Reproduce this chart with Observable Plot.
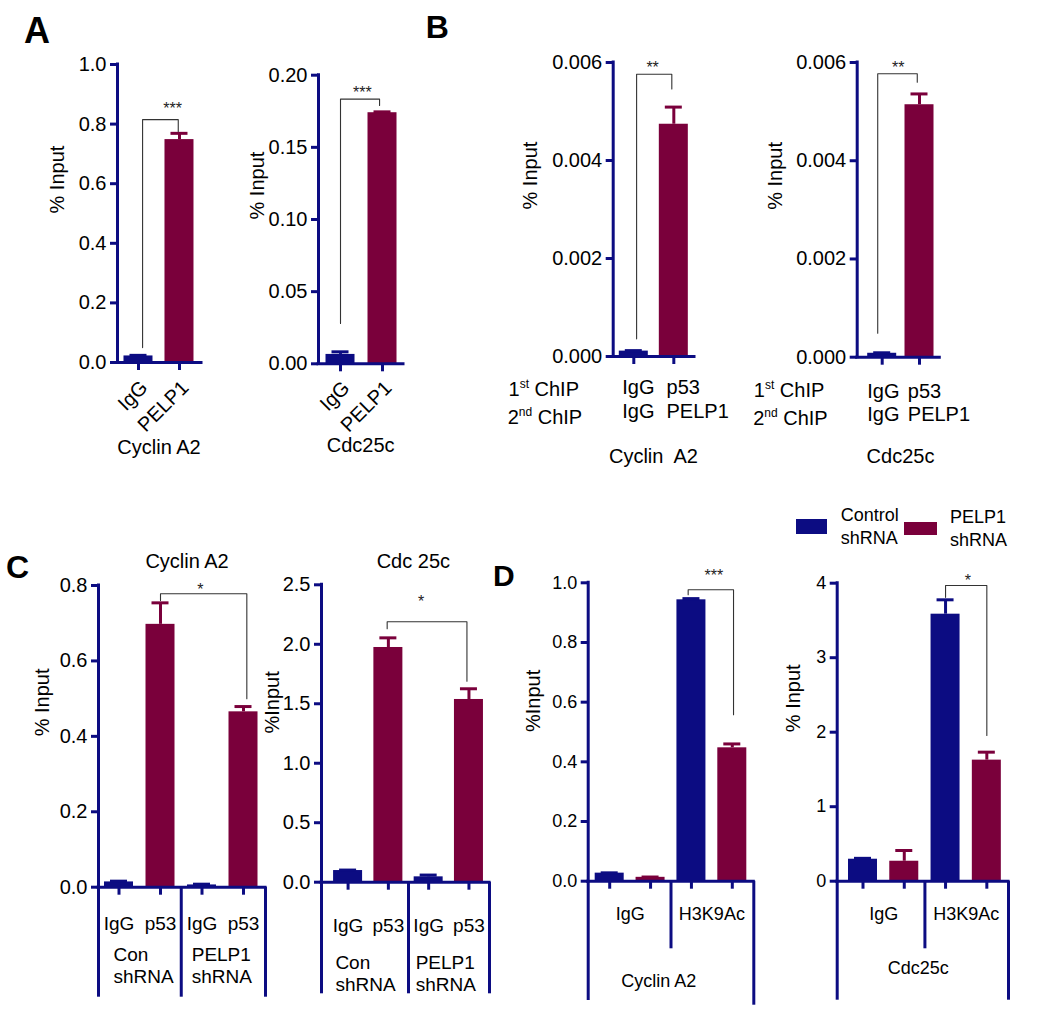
<!DOCTYPE html>
<html><head><meta charset="utf-8">
<script src="https://cdn.jsdelivr.net/npm/d3@7"></script>
<script src="https://cdn.jsdelivr.net/npm/@observablehq/plot@0.6"></script>
<style>
body{margin:0;background:#fff;}
#fig{position:relative;width:1050px;height:1018px;overflow:hidden;font-family:"Liberation Sans",Arial,sans-serif;background:#fff;}
#fig svg{position:absolute;left:0;top:0;}
.letter{position:absolute;font-weight:bold;line-height:1;color:#000;}
.sw{position:absolute;}
.lg{position:absolute;font-size:18px;line-height:23px;color:#000;}
</style></head><body><div id="fig"></div>
<script>
// ---------- data ----------
const genes = ["Cyclin A2", "Cdc25c"];
// Panel A: ChIP % input
const aAntibodies = ["IgG", "PELP1"];
const aCyclinA2 = [0.022, 0.748];
const aCyclinA2Sem = [0.002, 0.021];
const aCdc25c = [0.0065, 0.174];
const aCdc25cSem = [0.0018, 0.0006];
// Panel B: ChIP-reChIP
const bFirstChIP = ["IgG", "p53"];
const bSecondChIP = ["IgG", "PELP1"];
const bCyclinA2 = [0.00011, 0.00474];
const bCyclinA2Sem = [0.00001, 0.00035];
const bCdc25c = [0.00008, 0.00514];
const bCdc25cSem = [0.00001, 0.00022];
// Panel C: p53 ChIP in control vs PELP1 shRNA
const cAntibodies = ["IgG", "p53", "IgG", "p53"];
const cGroups = ["Con\nshRNA", "PELP1\nshRNA"];
const cCyclinA2 = [0.014, 0.697, 0.006, 0.465];
const cCyclinA2Sem = [0.002, 0.057, 0.002, 0.014];
const cCdc25c = [0.098, 1.973, 0.045, 1.536];
const cCdc25cSem = [0.004, 0.081, 0.015, 0.09];
// Panel D: H3K9Ac ChIP
const dAntibodies = ["IgG", "H3K9Ac"];
const dSeries = ["Control\nshRNA", "PELP1\nshRNA"];
const dCyclinA2 = [0.027, 0.013, 0.943, 0.447];
const dCyclinA2Sem = [0.001, 0.001, 0.004, 0.013];
const dCdc25c = [0.295, 0.268, 3.584, 1.625];
const dCdc25cSem = [0.012, 0.144, 0.193, 0.107];
// significance annotations (data units)
const aCyclinA2Sig = {from: 0.1, to: 0.97, y: 0.815, yFrom: 0.05, yTo: 0.775, label: "***", labelX: 0.83, labelY: 0.866};
const aCdc25cSig = {from: 0, to: 0.93, y: 0.1834, yFrom: 0.028, yTo: 0.179, label: "***", labelX: 0.52, labelY: 0.1906};
const bCyclinA2Sig = {from: 0.07, to: 0.95, y: 0.00576, yFrom: 0.00036, yTo: 0.00546, label: "**", labelX: 0.47, labelY: 0.00598};
const bCdc25cSig = {from: -0.12, to: 0.94, y: 0.00577, yFrom: 0.00049, yTo: 0.0056, label: "**", labelX: 0.43, labelY: 0.00598};
const cCyclinA2Sig = {from: 1, to: 3.08, y: 0.778, yFrom: 0.76, yTo: 0.50, label: "*", labelX: 1.96, labelY: 0.80};
const cCdc25cSig = {from: 0.97, to: 2.95, y: 2.19, yFrom: 2.13, yTo: 1.69, label: "*", labelX: 1.81, labelY: 2.39};
const dCyclinA2Sig = {from: 1.92, to: 3.03, y: 0.9766, yFrom: 0.96, yTo: 0.558, label: "***", labelX: 2.55, labelY: 1.035};
const dCdc25cSig = {from: 2.0, to: 3.0, y: 3.97, yFrom: 3.81, yTo: 1.956, label: "*", labelX: 2.54, labelY: 4.08};

// ---------- styling ----------
const NAVY = "#0c0c82", MAROON = "#7a003b";
const FONT = "'Liberation Sans', Arial, sans-serif";
const f0 = d3.format("d"), f1 = d3.format(".1f"), f2 = d3.format(".2f"), f3 = d3.format(".3f");
const fig = document.getElementById("fig");

function panel(p) {
  const [x0, x1] = p.xDomain;
  const step = (p.axisEnd - p.axisX) / (x1 - x0);
  const hw = 14.5 / step, cap = 8.5 / step;
  const u = p.yMax / (p.yZero - p.yTop);
  const below = px => -px * u;
  const fs = p.fontSize;
  const rows = p.values.map((v, i) => ({i, v, e: p.sems[i], c: p.colors[i]}));
  const s = p.sig;
  const bracket = [[s.from, s.yFrom], [s.from, s.y], [s.to, s.y], [s.to, s.yTo]];
  const marks = [
    Plot.rect(rows, {x1: d => d.i - hw, x2: d => d.i + hw, y1: () => 0, y2: d => d.v, fill: d => d.c}),
    Plot.ruleX(rows, {x: "i", y1: "v", y2: d => d.v + d.e, stroke: d => d.c, strokeWidth: 3}),
    Plot.ruleY(rows, {y: d => d.v + d.e, x1: d => d.i - cap, x2: d => d.i + cap, stroke: d => d.c, strokeWidth: 3}),
    Plot.line(bracket, {x: d => d[0], y: d => d[1], stroke: "#333", strokeWidth: 1.1}),
    Plot.text([s], {x: d => d.labelX, y: d => d.labelY, text: d => d.label, fontSize: 16, dy: 4, fill: "#222"}),
    Plot.ruleY([0], {stroke: NAVY, strokeWidth: 3, strokeLinecap: "square"}),
    Plot.ruleX([x0], {y1: () => 0, y2: () => p.yMax, stroke: NAVY, strokeWidth: 3, strokeLinecap: "square"}),
    Plot.ruleX(rows, {x: "i", y1: () => 0, y2: () => below(8), stroke: NAVY, strokeWidth: 3}),
    Plot.axisY({ticks: p.yTicks, tickFormat: p.fmt, tickSize: 7, tickPadding: 4, stroke: NAVY, strokeWidth: 3, fill: "black", fontSize: fs, label: null}),
    Plot.text([p.yLabel], {frameAnchor: "left", text: d => d, rotate: -90, dx: -p.yLabelOffset, fontSize: 20, fill: "black"})
  ];
  if (p.groupLines) marks.push(Plot.ruleX(p.groupLines, {x: d => d.x, y1: () => 0, y2: d => below(d.depth), stroke: NAVY, strokeWidth: 3}));
  for (const t of p.texts) {
    marks.push(Plot.text([t], {
      x: d => d.x, y: d => d.y ?? 0, text: d => d.text,
      dx: t.dx || 0, dy: t.dy || 0, textAnchor: t.anchor || "middle",
      rotate: t.rotate || 0, fontSize: t.fs || fs, lineHeight: t.lh || 1.18, fill: "black"
    }));
  }
  const svg = Plot.plot({
    width: 1050, height: 1018,
    marginLeft: p.axisX, marginRight: 1050 - p.axisEnd, marginTop: p.yTop, marginBottom: 1018 - p.yZero,
    x: {type: "linear", domain: p.xDomain, axis: null},
    y: {type: "linear", domain: [0, p.yMax]},
    color: {type: "identity"},
    style: {fontFamily: FONT, fontSize: fs + "px", color: "black", background: "transparent", overflow: "visible"},
    marks
  });
  // superscripts for "1st ChIP" / "2nd ChIP"
  svg.querySelectorAll("text").forEach(el => {
    const m = /^(\d)(st|nd) (ChIP)$/.exec(el.textContent);
    if (!m) return;
    el.textContent = "";
    const NS = "http://www.w3.org/2000/svg";
    el.appendChild(document.createTextNode(m[1]));
    const sup = document.createElementNS(NS, "tspan");
    sup.setAttribute("font-size", "12"); sup.setAttribute("dy", "-8"); sup.textContent = m[2];
    const rest = document.createElementNS(NS, "tspan");
    rest.setAttribute("dy", "8"); rest.textContent = " " + m[3];
    el.appendChild(sup); el.appendChild(rest);
  });
  fig.appendChild(svg);
}

const blueRed = [NAVY, MAROON];
const cColors = [NAVY, MAROON, NAVY, MAROON];

// ---- Panel A ----
panel({axisX: 117, axisEnd: 201, yTop: 64, yZero: 362, xDomain: [-0.512, 1.537], yMax: 1.0,
  yTicks: [0, 0.2, 0.4, 0.6, 0.8, 1.0], fmt: f1, fontSize: 20,
  values: aCyclinA2, sems: aCyclinA2Sem, colors: blueRed, sig: aCyclinA2Sig,
  yLabel: "% Input", yLabelOffset: 60,
  texts: [...aAntibodies.map((t, i) => ({x: i, text: t, dx: 5, dy: 21, anchor: "end", rotate: -45})),
          {x: 0.5, text: genes[0], dy: 84}]});
panel({axisX: 318, axisEnd: 403, yTop: 74.7, yZero: 363.3, xDomain: [-0.524, 1.5], yMax: 0.2,
  yTicks: [0, 0.05, 0.10, 0.15, 0.20], fmt: f2, fontSize: 20,
  values: aCdc25c, sems: aCdc25cSem, colors: blueRed, sig: aCdc25cSig,
  yLabel: "% Input", yLabelOffset: 61,
  texts: [...aAntibodies.map((t, i) => ({x: i, text: t, dx: 5, dy: 20, anchor: "end", rotate: -45})),
          {x: 0.48, text: genes[1], dy: 81}]});

// ---- Panel B ----
panel({axisX: 612.7, axisEnd: 694, yTop: 62, yZero: 356, xDomain: [-0.515, 1.517], yMax: 0.006,
  yTicks: [0, 0.002, 0.004, 0.006], fmt: f3, fontSize: 20,
  values: bCyclinA2, sems: bCyclinA2Sem, colors: blueRed, sig: bCyclinA2Sig,
  yLabel: "% Input", yLabelOffset: 82.7,
  texts: [{x: -0.515, text: "1st ChIP", dx: -104.7, dy: 32, anchor: "start"},
          {x: -0.515, text: "2nd ChIP", dx: -105.5, dy: 60, anchor: "start"},
          ...bFirstChIP.map((t, i) => ({x: i, text: t, dx: [-11.6, -7.3][i], dy: 30, anchor: "start"})),
          ...bSecondChIP.map((t, i) => ({x: i, text: t, dx: [-11.6, -7.3][i], dy: 54, anchor: "start"})),
          {x: 0.49, text: "Cyclin  A2", dy: 99}]});
panel({axisX: 856.7, axisEnd: 939.3, yTop: 62, yZero: 356.7, xDomain: [-0.67, 1.544], yMax: 0.006,
  yTicks: [0, 0.002, 0.004, 0.006], fmt: f3, fontSize: 20,
  values: bCdc25c, sems: bCdc25cSem, colors: blueRed, sig: bCdc25cSig,
  yLabel: "% Input", yLabelOffset: 81.7,
  texts: [{x: -0.67, text: "1st ChIP", dx: -103.4, dy: 32.5, anchor: "start"},
          {x: -0.67, text: "2nd ChIP", dx: -104, dy: 60, anchor: "start"},
          ...bFirstChIP.map((t, i) => ({x: i, text: t, dx: [-15, -11.7][i], dy: 33, anchor: "start"})),
          ...bSecondChIP.map((t, i) => ({x: i, text: t, dx: [-15, -11.7][i], dy: 56.5, anchor: "start"})),
          {x: 0.49, text: genes[1], dy: 98.5}]});

// ---- Panel C ----
panel({axisX: 98, axisEnd: 265, yTop: 585, yZero: 886.7, xDomain: [-0.494, 3.53], yMax: 0.8,
  yTicks: [0, 0.2, 0.4, 0.6, 0.8], fmt: f1, fontSize: 20,
  values: cCyclinA2, sems: cCyclinA2Sem, colors: cColors, sig: cCyclinA2Sig,
  yLabel: "% Input", yLabelOffset: 56.3,
  groupLines: [{x: -0.494, depth: 110}, {x: 1.5, depth: 110}, {x: 3.53, depth: 110}],
  texts: [{x: 1.64, y: 0.8, text: genes[0], dy: -25},
          ...cAntibodies.map((t, i) => ({x: i, text: t, dy: 35.6, fs: 19})),
          ...cGroups.map((t, g) => ({x: g * 2, text: t, dx: [-5.5, -10.3][g], dy: 77.8, anchor: "start", fs: 19}))]});
panel({axisX: 321, axisEnd: 489, yTop: 584.3, yZero: 881.7, xDomain: [-0.66, 3.51], yMax: 2.5,
  yTicks: [0, 0.5, 1.0, 1.5, 2.0, 2.5], fmt: f1, fontSize: 20,
  values: cCdc25c, sems: cCdc25cSem, colors: cColors, sig: cCdc25cSig,
  yLabel: "%Input", yLabelOffset: 49.3,
  groupLines: [{x: -0.66, depth: 111.6}, {x: 1.5, depth: 111.6}, {x: 3.51, depth: 111.6}],
  texts: [{x: 1.62, y: 2.5, text: "Cdc 25c", dy: -24.3},
          ...cAntibodies.map((t, i) => ({x: i, text: t, dy: 42.3, fs: 19})),
          ...cGroups.map((t, g) => ({x: g * 2, text: t, dx: [-12.7, -13][g], dy: 90.6, anchor: "start", fs: 19}))]});

// ---- Panel D ----
panel({axisX: 587.7, axisEnd: 753.3, yTop: 582.3, yZero: 880.7, xDomain: [-0.526, 3.526], yMax: 1.0,
  yTicks: [0, 0.2, 0.4, 0.6, 0.8, 1.0], fmt: f1, fontSize: 18,
  values: dCyclinA2, sems: dCyclinA2Sem, colors: cColors, sig: dCyclinA2Sig,
  yLabel: "%Input", yLabelOffset: 54.4,
  groupLines: [{x: -0.526, depth: 119.3}, {x: 1.5, depth: 67.6}, {x: 3.526, depth: 124}],
  texts: [...dAntibodies.map((t, g) => ({x: g * 2 + 0.5, text: t, dy: 31.6})),
          {x: 1.2, text: genes[0], dy: 98.6}]});
panel({axisX: 836.7, axisEnd: 1008, yTop: 582.7, yZero: 880.7, xDomain: [-0.625, 3.525], yMax: 4,
  yTicks: [0, 1, 2, 3, 4], fmt: f0, fontSize: 18,
  values: dCdc25c, sems: dCdc25cSem, colors: cColors, sig: dCdc25cSig,
  yLabel: "% Input", yLabelOffset: 43.4,
  groupLines: [{x: -0.625, depth: 119}, {x: 1.5, depth: 67.6}, {x: 3.525, depth: 119}],
  texts: [...dAntibodies.map((t, g) => ({x: g * 2 + 0.5, text: t, dy: 31.6})),
          {x: 1.34, text: genes[1], dy: 86.3}]});

// ---- legend (panel D) ----
const legendPos = [{sw: [796, 519, 31, 15], tx: [840.7, 503.5]}, {sw: [904, 522, 33, 13], tx: [950, 505.5]}];
dSeries.forEach((name, k) => {
  const L = legendPos[k];
  const sw = document.createElement("div");
  sw.className = "sw";
  Object.assign(sw.style, {left: L.sw[0] + "px", top: L.sw[1] + "px", width: L.sw[2] + "px", height: L.sw[3] + "px", background: blueRed[k]});
  fig.appendChild(sw);
  const tx = document.createElement("div");
  tx.className = "lg";
  Object.assign(tx.style, {left: L.tx[0] + "px", top: L.tx[1] + "px"});
  name.split("\n").forEach((line, j) => { if (j) tx.appendChild(document.createElement("br")); tx.appendChild(document.createTextNode(line)); });
  fig.appendChild(tx);
});

// ---- panel letters ----
[["A", 24, 12.5, 36], ["B", 425.7, 10.9, 32], ["C", 6, 550.9, 32], ["D", 493, 561.3, 30]].forEach(([t, l, tp, fs]) => {
  const d = document.createElement("div");
  d.className = "letter";
  Object.assign(d.style, {left: l + "px", top: tp + "px", fontSize: fs + "px"});
  d.textContent = t;
  fig.appendChild(d);
});
</script></body></html>
